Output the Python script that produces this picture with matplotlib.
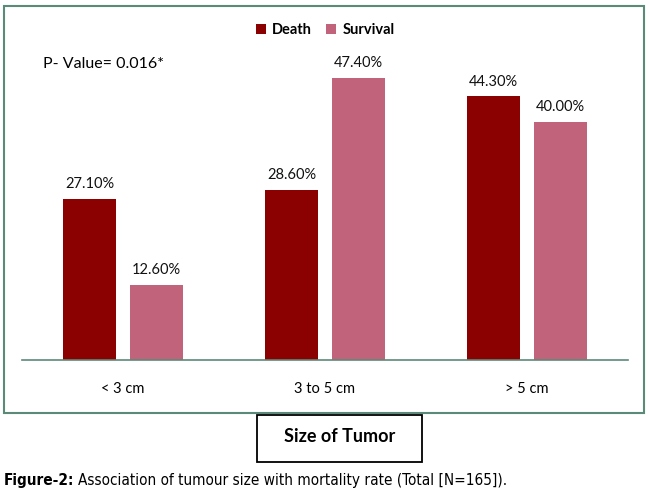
import numpy as np
import matplotlib
matplotlib.use("Agg")
import matplotlib.pyplot as plt
from matplotlib.patches import Rectangle

# --- data ---
categories = ["< 3 cm", "3 to 5 cm", "> 5 cm"]
death = [27.1, 28.6, 44.3]
survival = [12.6, 47.4, 40.0]
series_names = ["Death", "Survival"]

death_color = "#8B0000"
surv_color = "#C0637B"
frame_color = "#5B8A78"

plt.rcParams["font.family"] = ["Lato", "DejaVu Sans"]

fig = plt.figure(figsize=(6.5, 4.98), dpi=100)

# outer frame round the chart
fig.patches.append(Rectangle((4 / 650, 1 - 413 / 498), 640 / 650, 407 / 498,
                             transform=fig.transFigure, fill=False,
                             edgecolor=frame_color, linewidth=1.5))

ax = fig.add_axes([22 / 650, 138 / 498, 606 / 650, 297.5 / 498])
x = np.arange(len(categories))
w = 0.267
off = 0.166
b1 = ax.bar(x - off, death, w, color=death_color, label=series_names[0])
b2 = ax.bar(x + off, survival, w, color=surv_color, label=series_names[1])

for bars, vals in [(b1, death), (b2, survival)]:
    for b, v in zip(bars, vals):
        ax.text(b.get_x() + b.get_width() / 2, v + 1.3, f"{v:.2f}%",
                ha="center", va="bottom", fontsize=10.5, color="#111111")

ax.set_xlim(-0.5, 2.5)
ax.set_ylim(0, 50)
ax.set_yticks([])
ax.set_xticks(x)
ax.set_xticklabels(categories, fontsize=10.5)
ax.tick_params(axis="x", length=0, pad=16)
for s in ["top", "left", "right"]:
    ax.spines[s].set_visible(False)
ax.spines["bottom"].set_color(frame_color)
ax.spines["bottom"].set_linewidth(1.2)

ax.text((43 - 22) / 606, 0.995, "P- Value= 0.016*", transform=ax.transAxes,
        fontsize=11.5, ha="left", va="center")

leg = ax.legend(loc="center", bbox_to_anchor=(0.5, 1.11), ncol=2, frameon=False,
                fontsize=10.5, handlelength=0.7, handleheight=0.7,
                handletextpad=0.4, columnspacing=1.0)
for t in leg.get_texts():
    t.set_fontweight("bold")

# axis title in its own box
fig.patches.append(Rectangle((257 / 650, 1 - 462 / 498), 165 / 650, 47 / 498,
                             transform=fig.transFigure, fill=False,
                             edgecolor="black", linewidth=1.3))
fig.text(339.5 / 650, 1 - 436 / 498, "Size of Tumor", ha="center", va="center",
         fontsize=13, fontweight="bold")

# caption, second part placed right after the bold label
cap_font = dict(family=["DejaVu Sans", "Liberation Sans"], stretch="condensed")
t1 = fig.text(4 / 650, 1 - 480 / 498, "Figure-2:", ha="left", va="center",
              fontsize=11, fontweight="bold", **cap_font)
fig.canvas.draw()
bb = t1.get_window_extent()
fig.text((bb.x1 + 4) / 650, 1 - 480 / 498,
         "Association of tumour size with mortality rate (Total [N=165]).",
         ha="left", va="center", fontsize=11, **cap_font)

fig.savefig("out.png", dpi=100)
